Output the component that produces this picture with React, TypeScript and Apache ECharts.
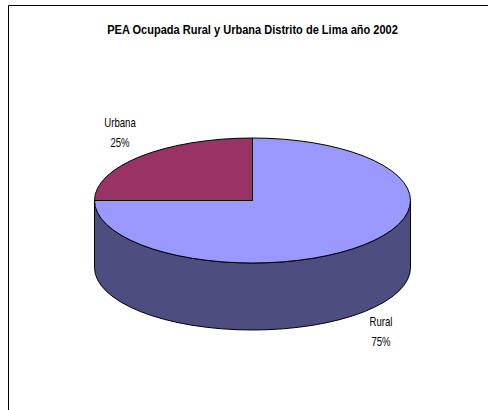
import React, { useEffect, useRef } from "react";
import * as echarts from "echarts";

const TITLE = "PEA Ocupada Rural y Urbana Distrito de Lima año 2002";
const categories = ["Rural", "Urbana"];
const values = [75, 25];
const colors = ["#9999FF", "#993366"];
const sideColors = ["#4D4D80", "#4D1A33"];

const W = 488;
const H = 410;
const CX = 252.5;
const CY = 200.5;
const RX = 158;
const RY = 62.5;
const DEPTH = 67;
const LABEL_POS: [number, number][] = [[381, 332], [120, 133]];

const total = values.reduce((a, b) => a + b, 0);
// t is measured clockwise from 12 o'clock, in radians
const px = (t: number) => CX + RX * Math.sin(t);
const py = (t: number, d = 0) => CY - RY * Math.cos(t) + d;

function arcSeg(from: number, to: number, d: number, sweep: number) {
  const large = Math.abs(to - from) > Math.PI ? 1 : 0;
  return `A${RX} ${RY} 0 ${large} ${sweep} ${px(to).toFixed(2)} ${py(to, d).toFixed(2)}`;
}

function renderItem(params: any, api: any) {
  const i = params.dataIndex;
  const before = values.slice(0, i).reduce((a, b) => a + b, 0);
  const a0 = (before / total) * Math.PI * 2;
  const a1 = a0 + (api.value(0) / total) * Math.PI * 2;
  const children: any[] = [];
  const lineStyle = { stroke: "#000", lineWidth: 1 };

  const f0 = Math.max(a0, Math.PI / 2);
  const f1 = Math.min(a1, (Math.PI * 3) / 2);
  if (f1 > f0) {
    const d =
      `M${px(f0)} ${py(f0)}` +
      `L${px(f0)} ${py(f0, DEPTH)}` +
      arcSeg(f0, f1, DEPTH, 1) +
      `L${px(f1)} ${py(f1)}` +
      arcSeg(f1, f0, 0, 0) +
      "Z";
    children.push({
      type: "path",
      shape: { pathData: d },
      style: { fill: sideColors[i], ...lineStyle },
    });
  }
  const top =
    `M${CX} ${CY}L${px(a0)} ${py(a0)}` + arcSeg(a0, a1, 0, 1) + "Z";
  children.push({
    type: "path",
    shape: { pathData: top },
    style: { fill: colors[i], ...lineStyle },
  });
  children.push({
    type: "text",
    x: LABEL_POS[i][0],
    y: LABEL_POS[i][1],
    scaleX: 0.8,
    style: {
      text: `${categories[i]}\n${api.value(0)}%`,
      fill: "#000",
      font: '12px "Liberation Sans"',
      lineHeight: 20,
      align: "center",
      verticalAlign: "middle",
    },
  });
  return { type: "group", children };
}

export default function App() {
  const ref = useRef<HTMLDivElement>(null);
  useEffect(() => {
    document.body.style.margin = "0";
    const chart = echarts.init(ref.current!, undefined, { renderer: "svg" });
    chart.setOption({
      animation: false,
      backgroundColor: "#fff",
      graphic: [
        {
          type: "polyline",
          shape: { points: [[8.5, 410], [8.5, 5.5], [488, 5.5]] },
          style: { fill: "none", stroke: "#000", lineWidth: 1 },
          silent: true,
        },
        {
          type: "text",
          x: 252.5,
          y: 30,
          scaleX: 0.92,
          style: {
            text: TITLE,
            fill: "#000",
            font: 'bold 12px "Liberation Sans"',
            align: "center",
            verticalAlign: "middle",
          },
          silent: true,
        },
      ],
      series: [
        {
          type: "custom",
          coordinateSystem: "none",
          renderItem,
          data: values.map((v, i) => ({ name: categories[i], value: [v] })),
        },
      ],
    });
    return () => chart.dispose();
  }, []);
  return <div ref={ref} style={{ width: W, height: H }} />;
}
